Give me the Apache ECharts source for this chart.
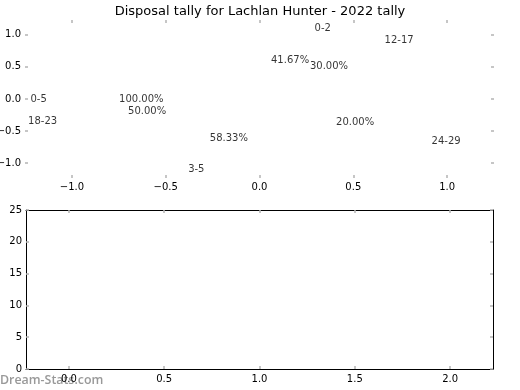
<!DOCTYPE html>
<html>
<head>
<meta charset="utf-8">
<script src="https://cdn.jsdelivr.net/npm/echarts@6/dist/echarts.min.js"></script>
<style>html,body{margin:0;padding:0;background:#fff;}#c{width:520px;height:390px;}</style>
</head>
<body>
<div id="c"></div>
<script>
// ---- data ----
const chartTitle = 'Disposal tally for Lachlan Hunter - 2022 tally';
const pieALabels = ['0-5'];
const pieAShares = [100];
const pieBLabels = ['0-2', '3-5'];
const pieBShares = [41.67, 58.33];
const pieCLabels = ['12-17', '18-23', '24-29'];
const pieCShares = [30, 50, 20];
const topXTicks = [-1.0, -0.5, 0.0, 0.5, 1.0];
const topYTicks = [-1.0, -0.5, 0.0, 0.5, 1.0];
const bottomXTicks = [0.0, 0.5, 1.0, 1.5, 2.0];
const bottomYTicks = [0, 5, 10, 15, 20, 25];
const watermark = 'Dream-Stats.com';

// ---- build pie label points (startangle 0, counter-clockwise) ----
const R = 1.05, LABEL_DIST = 1.08, PCT_DIST = 0.6;
function pieTexts(labels, shares) {
  const total = shares.reduce((a, b) => a + b, 0);
  let acc = 0;
  const out = [];
  labels.forEach((lab, i) => {
    const f = shares[i] / total;
    const mid = 2 * Math.PI * (acc + f / 2);
    acc += f;
    const c = Math.cos(mid), s = Math.sin(mid);
    out.push({ value: [LABEL_DIST * R * c, LABEL_DIST * R * s], text: lab, align: c > 0 ? 'left' : 'right' });
    out.push({ value: [PCT_DIST * R * c, PCT_DIST * R * s], text: (100 * f).toFixed(2) + '%', align: 'center' });
  });
  return out;
}
const textPts = [].concat(
  pieTexts(pieALabels, pieAShares),
  pieTexts(pieBLabels, pieBShares),
  pieTexts(pieCLabels, pieCShares)
).map(p => ({
  value: p.value,
  label: { formatter: p.text, align: p.align }
}));

const FONT = 'DejaVu Sans';
const TICKC = '#b4b4b4';
const fmt1 = v => (v < 0 ? '\u2212' : '') + Math.abs(v).toFixed(1);

function tick(vals) {
  const t = { show: true, inside: true, length: 3, lineStyle: { color: TICKC, width: 1.5 } };
  if (vals) t.customValues = vals;
  return t;
}
function lbl(vals, margin) {
  const l = { formatter: fmt1, fontFamily: FONT, fontSize: 10, color: '#000', margin: margin };
  if (vals) l.customValues = vals;
  return l;
}
const noLine = { show: false, onZero: false };
const blackLine = { show: true, onZero: false, lineStyle: { color: '#000', width: 1 } };

const chart = echarts.init(document.getElementById('c'), null, { renderer: 'canvas' });
chart.setOption({
  animation: false,
  backgroundColor: '#fff',
  title: {
    text: chartTitle, left: 'center', top: 0,
    textStyle: { fontFamily: FONT, fontSize: 13, fontWeight: 'normal', color: '#000' }
  },
  graphic: [{
    type: 'text', left: 0, top: 374,
    style: { text: watermark, font: '600 12.4px "Open Sans"', fill: '#999999' }
  }],
  grid: [
    { left: 25, right: 26, top: 20, bottom: 212, show: false, outerBoundsMode: 'none', containLabel: false },
    { left: 26, right: 27, top: 210, bottom: 21, show: false, outerBoundsMode: 'none', containLabel: false }
  ],
  xAxis: [
    { type: 'value', gridIndex: 0, min: -1.25, max: 1.25, position: 'bottom',
      axisLine: noLine, splitLine: { show: false },
      axisTick: tick(topXTicks), axisLabel: lbl(topXTicks, 4) },
    { type: 'value', gridIndex: 0, min: -1.25, max: 1.25, position: 'top',
      axisLine: noLine, splitLine: { show: false },
      axisTick: tick(topXTicks), axisLabel: { show: false } },
    { type: 'value', gridIndex: 1, min: -0.225, max: 2.225, position: 'bottom',
      axisLine: blackLine, splitLine: { show: false },
      axisTick: tick(bottomXTicks), axisLabel: lbl(bottomXTicks, 5) },
    { type: 'value', gridIndex: 1, min: -0.225, max: 2.225, position: 'top',
      axisLine: blackLine, splitLine: { show: false },
      axisTick: tick(bottomXTicks), axisLabel: { show: false } }
  ],
  yAxis: [
    { type: 'value', gridIndex: 0, min: -1.23, max: 1.23, position: 'left',
      axisLine: noLine, splitLine: { show: false },
      axisTick: tick(topYTicks), axisLabel: lbl(topYTicks, 4) },
    { type: 'value', gridIndex: 0, min: -1.23, max: 1.23, position: 'right',
      axisLine: noLine, splitLine: { show: false },
      axisTick: tick(topYTicks), axisLabel: { show: false } },
    { type: 'value', gridIndex: 1, min: 0, max: 25, position: 'left',
      axisLine: blackLine, splitLine: { show: false },
      axisTick: tick(bottomYTicks),
      axisLabel: { customValues: bottomYTicks, formatter: v => String(v), fontFamily: FONT, fontSize: 10, color: '#000', margin: 4 } },
    { type: 'value', gridIndex: 1, min: 0, max: 25, position: 'right',
      axisLine: blackLine, splitLine: { show: false },
      axisTick: tick(bottomYTicks), axisLabel: { show: false } }
  ],
  series: [
    { type: 'scatter', xAxisIndex: 0, yAxisIndex: 0, symbolSize: 1, silent: true,
      itemStyle: { color: 'rgba(0,0,0,0)' },
      label: { show: true, position: 'inside', verticalAlign: 'middle', fontFamily: FONT, fontSize: 10, color: '#000' },
      emphasis: { disabled: true },
      data: textPts },
    { type: 'line', xAxisIndex: 2, yAxisIndex: 2, data: [], silent: true }
  ]
});
</script>
</body>
</html>
